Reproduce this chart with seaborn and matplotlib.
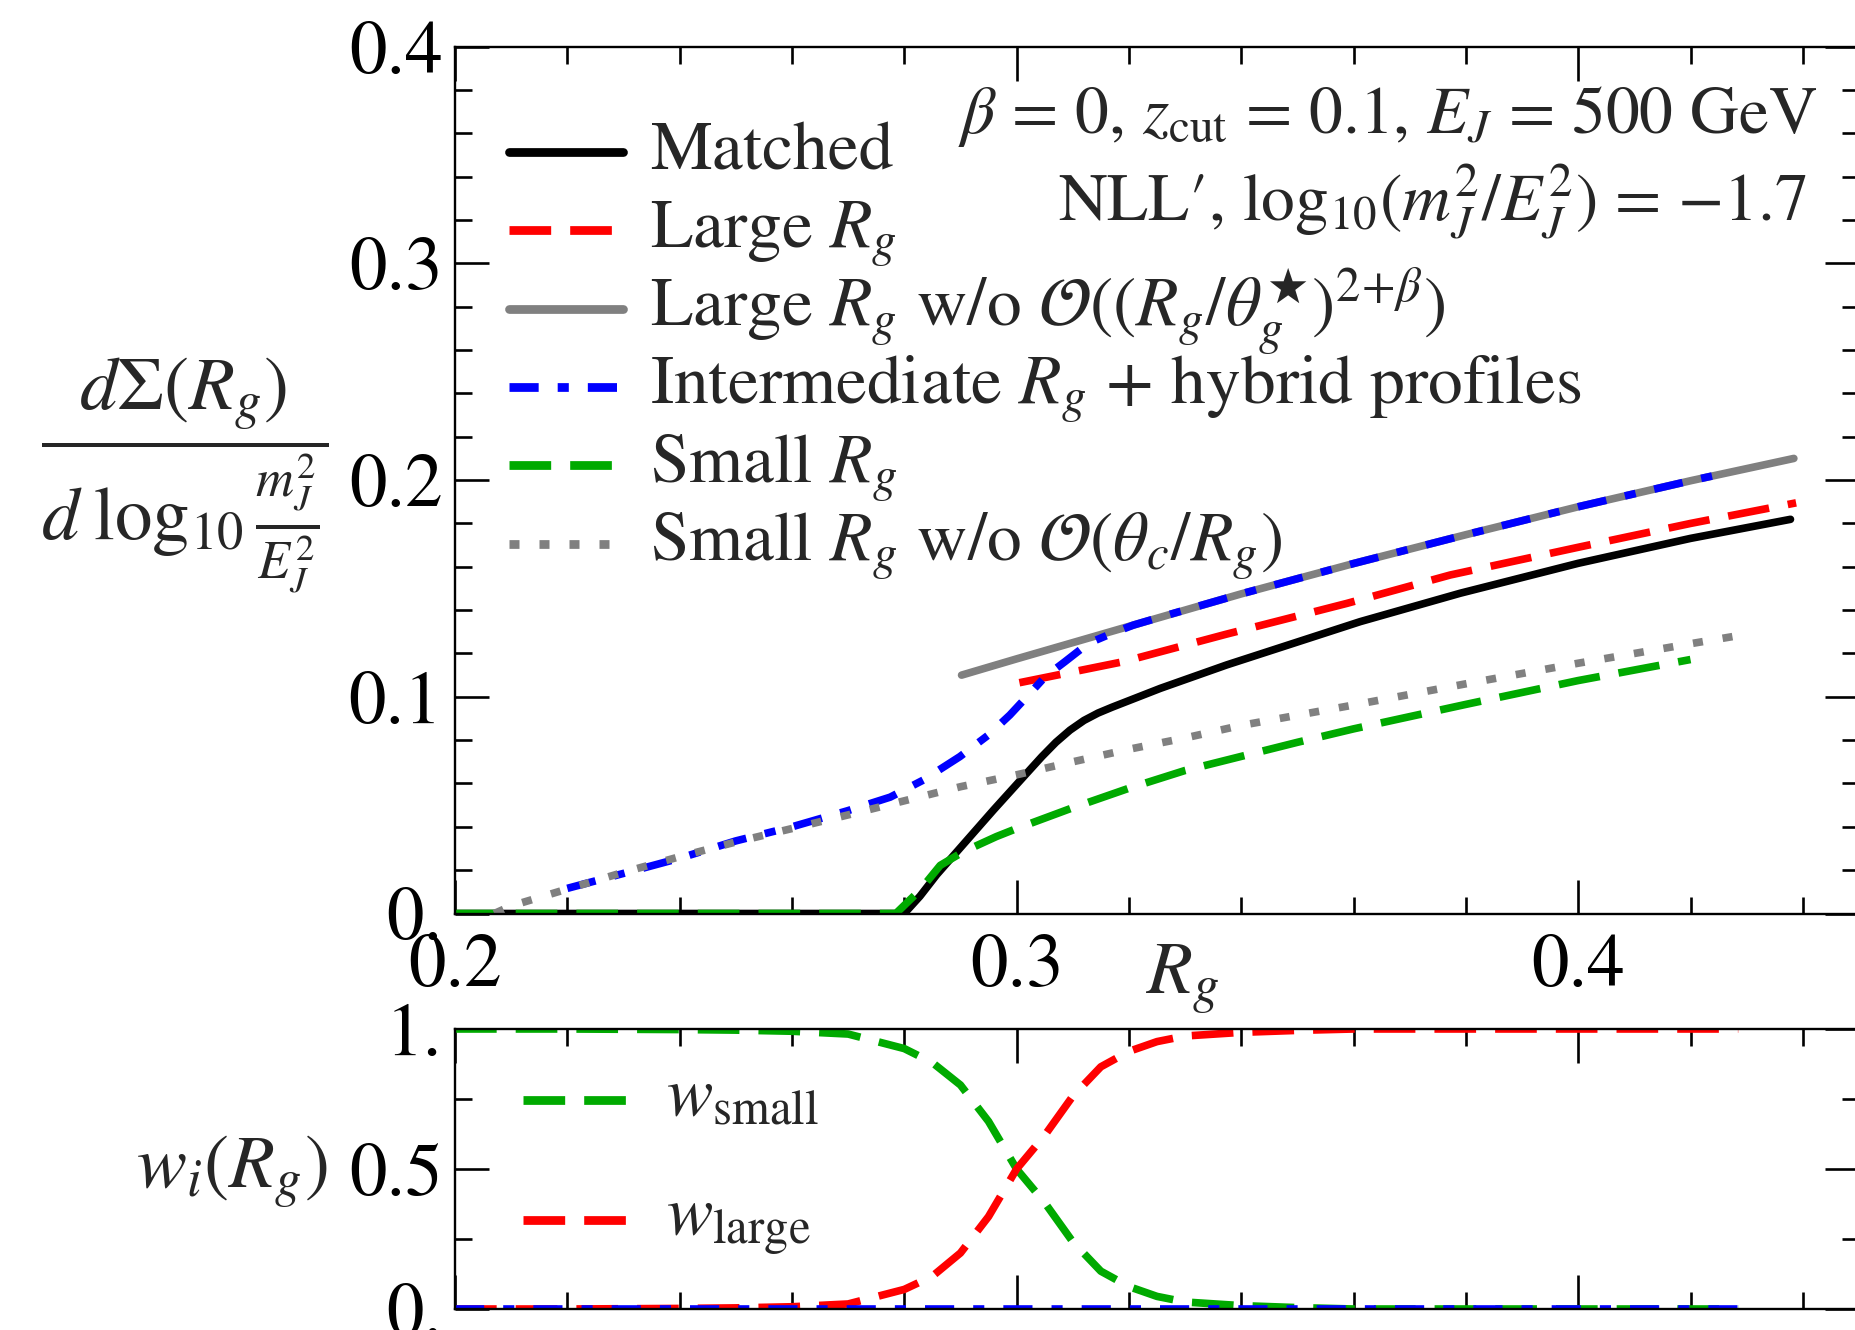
import matplotlib
matplotlib.use("Agg")
import matplotlib.pyplot as plt
from matplotlib.lines import Line2D
from matplotlib.ticker import MultipleLocator, FixedLocator
import seaborn as sns

# ---------------- data: upper panel, dSigma/dlog10(m^2/E^2) vs R_g ----------------
matched_x = [0.20, 0.28, 0.2828, 0.2858, 0.2899, 0.2959, 0.3018, 0.3045, 0.3070, 0.3095,
             0.3120, 0.3145, 0.3170, 0.3256, 0.3374, 0.3493, 0.3612, 0.379, 0.40, 0.42, 0.4378]
matched_y = [0.0, 0.0, 0.008, 0.018, 0.0301, 0.0478, 0.0647, 0.0724, 0.0790, 0.0846,
             0.0891, 0.0925, 0.0952, 0.1039, 0.1147, 0.1247, 0.1347, 0.1478, 0.1616, 0.1731, 0.1819]

large_x = [0.3005, 0.319, 0.3372, 0.3588, 0.3772, 0.40, 0.42, 0.4388]
large_y = [0.1065, 0.1162, 0.1288, 0.1431, 0.1562, 0.1690, 0.1800, 0.1895]

large_noexp_x = [0.2902, 0.30, 0.31, 0.32, 0.33, 0.34, 0.36, 0.38, 0.40, 0.42, 0.4384]
large_noexp_y = [0.110, 0.1175, 0.125, 0.1325, 0.140, 0.1475, 0.1615, 0.1748, 0.1877, 0.1997, 0.210]

inter_x = [0.22, 0.23, 0.24, 0.25, 0.26, 0.27, 0.2775, 0.2834, 0.2899, 0.2950, 0.2988,
           0.3021, 0.3051, 0.3086, 0.3128, 0.3170, 0.3208, 0.3259, 0.34, 0.36, 0.38,
           0.40, 0.42, 0.426]
inter_y = [0.0116, 0.0185, 0.0255, 0.0335, 0.040, 0.0475, 0.0537, 0.0616, 0.0724, 0.0824, 0.0916,
           0.1008, 0.1093, 0.1162, 0.1247, 0.1293, 0.1331, 0.1370, 0.1475, 0.1615, 0.1748,
           0.1877, 0.1997, 0.2031]

small_x = [0.20, 0.2785, 0.2828, 0.2864, 0.2905, 0.2964, 0.30, 0.31, 0.32, 0.33, 0.34,
           0.35, 0.36, 0.38, 0.40, 0.42]
small_y = [0.0, 0.0, 0.0108, 0.0222, 0.0285, 0.0355, 0.0392, 0.0488, 0.0578, 0.066, 0.0725,
           0.0790, 0.0852, 0.0965, 0.1075, 0.1172]

small_noexp_x = [0.207, 0.21, 0.22, 0.23, 0.24, 0.25, 0.26, 0.27, 0.28, 0.29, 0.30,
                 0.31, 0.32, 0.33, 0.34, 0.36, 0.38, 0.40, 0.42, 0.428]
small_noexp_y = [0.0, 0.0035, 0.0113, 0.0190, 0.0262, 0.0330, 0.0392, 0.0455, 0.0520, 0.0585, 0.0640,
                 0.0700, 0.0758, 0.0810, 0.0868, 0.0962, 0.1060, 0.1155, 0.1245, 0.1280]

# ---------------- data: lower panel, matching weights ----------------
w_x = [0.20, 0.21, 0.22, 0.23, 0.24, 0.25, 0.26, 0.27, 0.28, 0.285, 0.29, 0.295, 0.30,
       0.305, 0.31, 0.315, 0.32, 0.325, 0.33, 0.34, 0.35, 0.36, 0.38, 0.40, 0.42, 0.4285]
w_small = [1.0, 1.0, 1.0, 0.999, 0.998, 0.996, 0.992, 0.982, 0.93, 0.88, 0.80, 0.67, 0.50,
           0.38, 0.24, 0.135, 0.08, 0.045, 0.025, 0.012, 0.005, 0.0, 0.0, 0.0, 0.0, 0.0]
w_large = [0.0, 0.0, 0.0, 0.001, 0.002, 0.004, 0.008, 0.018, 0.07, 0.117, 0.20, 0.33, 0.50,
           0.62, 0.76, 0.865, 0.92, 0.955, 0.975, 0.988, 0.995, 1.0, 1.0, 1.0, 1.0, 1.0]
w_inter = [0.0] * len(w_x)

# ---------------- axis ticks ----------------
x_major = [0.2, 0.3, 0.4]
x_major_labels = ["0.2", "0.3", "0.4"]
y_major = [0.0, 0.1, 0.2, 0.3, 0.4]
y_major_labels = ["0.", "0.1", "0.2", "0.3", "0.4"]
w_major = [0.0, 0.5, 1.0]
w_major_labels = ["0.", "0.5", "1."]

legend_labels = [
    "Matched",
    r"Large $R_g$",
    r"Large $R_g$ w/o $\mathcal{O}((R_g/\theta_g^{\bigstar})^{2\!+\!\beta})$",
    r"Intermediate $R_g$ + hybrid profiles",
    r"Small $R_g$",
    r"Small $R_g$ w/o $\mathcal{O}(\theta_c/R_g)$",
]

# ---------------- style ----------------
sns.set_theme(style="ticks")
plt.rcParams.update({
    "font.family": ["STIXGeneral", "DejaVu Sans"],
    "mathtext.fontset": "stix",
    "lines.scale_dashes": False,
    "axes.linewidth": 1.7,
    "axes.edgecolor": "black",
    "xtick.color": "black",
    "ytick.color": "black",
})

W, H = 1855, 1330
LW = 5.5
DASH = (0, (30, 13.7))
DASHDOT = (0, (21, 13.7, 8, 13.7))
DOT = (0, (7.2, 14.4))
BLACK, RED, GRAY, BLUE, GREEN = "#000000", "#ff0000", "#808080", "#0000ff", "#00aa00"
TICK_FS = 54
LEG_FS = 50
ANN_FS = 48.5

fig = plt.figure(figsize=(W / 100, H / 100), dpi=100)


def fx(px):
    return px / W


def fy(py):
    return 1 - py / H


ax = fig.add_axes([fx(455), fy(913.5), fx(1859) - fx(455), fy(46.7) - fy(913.5)])
axw = fig.add_axes([fx(455), fy(1309), fx(1859) - fx(455), fy(1029) - fy(1309)])

series = [
    (matched_x, matched_y, BLACK, "-"),
    (large_x, large_y, RED, DASH),
    (large_noexp_x, large_noexp_y, GRAY, "-"),
    (inter_x, inter_y, BLUE, DASHDOT),
    (small_x, small_y, GREEN, DASH),
    (small_noexp_x, small_noexp_y, GRAY, DOT),
]
for xs, ys, col, ls in series:
    sns.lineplot(x=xs, y=ys, ax=ax, color=col, linewidth=LW, linestyle=ls,
                 sort=False, estimator=None, legend=False)

for ys, col, ls in [(w_small, GREEN, DASH), (w_large, RED, DASH), (w_inter, BLUE, DASHDOT)]:
    sns.lineplot(x=w_x, y=ys, ax=axw, color=col, linewidth=LW, linestyle=ls,
                 sort=False, estimator=None, legend=False)

for a in (ax, axw):
    a.set_xlim(0.2, 0.45)
    a.xaxis.set_major_locator(FixedLocator(x_major))
    a.xaxis.set_minor_locator(MultipleLocator(0.02))
    a.tick_params(which="both", direction="in", top=True, right=True, width=1.9,
                  labelsize=TICK_FS, pad=9)
    a.tick_params(which="major", length=24.5)
    a.tick_params(which="minor", length=12.2)
    a.set_xlabel("")
    a.set_ylabel("")

ax.set_ylim(0, 0.4)
ax.set_yticks(y_major, labels=y_major_labels)
ax.yaxis.set_minor_locator(MultipleLocator(0.02))
ax.set_xticks(x_major, labels=x_major_labels)
ax.tick_params(axis="x", which="major", pad=15)

axw.set_ylim(0, 1)
axw.set_yticks(w_major, labels=w_major_labels)
axw.yaxis.set_minor_locator(MultipleLocator(0.25))
axw.set_xticks(x_major, labels=["", "", ""])

# axis titles
fig.text(fx(185), fy(475),
         r"$\dfrac{d\Sigma(R_g)}{d\;\log_{10}\frac{m_J^2}{E_J^2}}$",
         ha="center", va="center", fontsize=TICK_FS)
fig.text(fx(1146), fy(994), r"$R_g$", ha="left", va="baseline", fontsize=TICK_FS)
fig.text(fx(328), fy(1188), r"$w_i(R_g)$", ha="right", va="baseline", fontsize=TICK_FS)

# parameter annotation
fig.text(fx(1817), fy(133), r"$\beta$ = 0, $z_{\rm cut}$ = 0.1, $E_J$ = 500 GeV",
         ha="right", va="baseline", fontsize=ANN_FS)
fig.text(fx(1806), fy(221), "NLL\u2032, " + r"$\mathrm{log}_{10}(m_J^2/E_J^2)$ = $-$1.7",
         ha="right", va="baseline", fontsize=ANN_FS)

# legend of the upper panel
leg_styles = [(BLACK, "-"), (RED, DASH), (GRAY, "-"), (BLUE, DASHDOT), (GREEN, DASH), (GRAY, DOT)]
for i, ((col, ls), lab) in enumerate(zip(leg_styles, legend_labels)):
    yy = 152 + 78.3 * i
    fig.add_artist(Line2D([fx(509), fx(623)], [fy(yy), fy(yy)], color=col,
                          linewidth=LW + 0.8, linestyle=ls))
    fig.text(fx(650), fy(yy + 17), lab, ha="left", va="baseline", fontsize=LEG_FS)

# legend of the lower panel
for (col, ls), lab, yy in [((GREEN, DASH), r"$w_{\rm small}$", 1100),
                           ((RED, DASH), r"$w_{\rm large}$", 1220)]:
    fig.add_artist(Line2D([fx(523), fx(630)], [fy(yy), fy(yy)], color=col,
                          linewidth=LW + 0.8, linestyle=ls))
    fig.text(fx(666), fy(yy + 15), lab, ha="left", va="baseline", fontsize=LEG_FS)

fig.savefig("out.png", dpi=100)
